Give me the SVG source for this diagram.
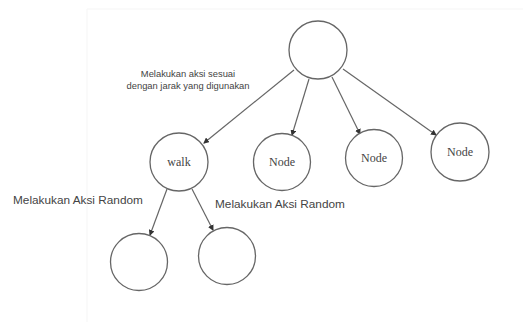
<svg xmlns="http://www.w3.org/2000/svg" width="523" height="322" viewBox="0 0 523 322">
<style>
.n{fill:#fff;stroke:#666;stroke-width:1.3}
.t{font-family:"Liberation Serif",serif;font-size:12px;fill:#444;text-anchor:middle}
.l{font-family:"Liberation Sans",Arial,sans-serif;fill:#444}
.c{stroke:#666;stroke-width:1.2;fill:none;marker-end:url(#a)}
</style>
<defs><marker id="a" markerWidth="6" markerHeight="6" refX="5" refY="3" orient="auto" markerUnits="userSpaceOnUse"><path d="M0,0L6,3L0,6z" fill="#333"/></marker></defs>
<rect width="523" height="322" fill="#fff"/>
<path d="M87,9V322M87,9H523" stroke="#f5f5f5" stroke-width="1"/>
<g id="connectors">
<line class="c" x1="294" y1="70" x2="204" y2="143"/>
<line class="c" x1="309" y1="79" x2="292" y2="135"/>
<line class="c" x1="332" y1="77" x2="360" y2="134"/>
<line class="c" x1="343" y1="69" x2="436" y2="135"/>
<line class="c" x1="167" y1="189" x2="150" y2="235"/>
<line class="c" x1="192" y1="189" x2="213" y2="230"/>
</g>
<g id="root"><circle class="n" cx="318" cy="50" r="29"/></g>
<g id="walk"><circle class="n" cx="179" cy="162" r="29"/><text class="t" x="179" y="166">walk</text></g>
<g id="node1"><circle class="n" cx="282" cy="162" r="28.5"/><text class="t" x="282" y="166">Node</text></g>
<g id="node2"><circle class="n" cx="374" cy="158" r="28.5"/><text class="t" x="374" y="162">Node</text></g>
<g id="node3"><circle class="n" cx="460" cy="152" r="29"/><text class="t" x="460" y="156">Node</text></g>
<g id="leaf1"><circle class="n" cx="139" cy="262" r="28.5"/></g>
<g id="leaf2"><circle class="n" cx="227" cy="256" r="28.5"/></g>
<g id="labels">
<text class="l" font-size="9.4" text-anchor="middle" x="188" y="77">Melakukan aksi sesuai</text>
<text class="l" font-size="9.4" text-anchor="middle" x="188" y="89">dengan jarak yang digunakan</text>
<text class="l" font-size="11.8" x="13" y="204">Melakukan Aksi Random</text>
<text class="l" font-size="11.8" x="215" y="208">Melakukan Aksi Random</text>
</g>
</svg>
